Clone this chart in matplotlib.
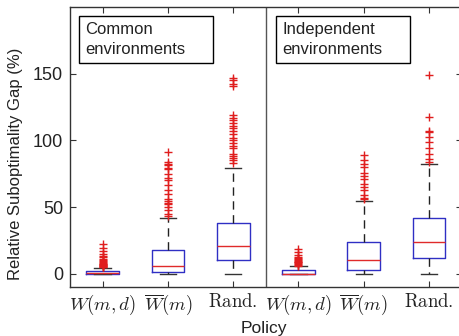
import matplotlib
matplotlib.use('Agg')
import matplotlib.pyplot as plt
from matplotlib.patches import Rectangle

plt.rcParams['font.family'] = 'Liberation Sans'
plt.rcParams['mathtext.fontset'] = 'cm'

# policies, repeated for both panels
policy_labels = [r'$W(m,d)$', r'$\overline{W}(m)$', r'$\mathrm{Rand.}$'] * 2
group_labels = ['Common\nenvironments', 'Independent\nenvironments']
positions = [1, 2, 3, 4, 5, 6]

# box statistics (common x3, independent x3)
whislo = [0, 0, 0, 0, 0, 0]
q1 = [0, 1, 10, 0, 3, 12]
med = [0.3, 6, 20.5, 0, 10, 23.5]
q3 = [1.7, 17.5, 38, 2.8, 23.5, 41.5]
whishi = [4.3, 41.7, 79.5, 5.7, 54.5, 82]

fliers = [
    [22, 19.5, 17, 15, 13.5, 12.5, 11, 10, 9.2, 8.6, 8, 7.5, 7, 6.6, 6.2, 5.8, 5.4, 5, 4.7],
    [91.2, 83.7, 82, 81.2, 79, 78.2, 75, 72, 70.5, 66.7, 63, 60, 56, 54.2, 53, 52, 50, 47.5, 45, 43.5],
    [147, 145, 142.5, 141, 119, 117, 115, 113, 111, 109, 107, 105, 102, 100, 98, 96, 94, 90,
     88, 87, 85, 83],
    [18.7, 16.2, 13.7, 12.5, 11.8, 11, 10.3, 9.6, 9, 8.4, 7.8, 7.2, 6.6, 6.1],
    [88.7, 85, 82.5, 80, 75.7, 73, 71.2, 67, 65, 62.5, 59.2, 57, 56],
    [149.2, 117.5, 107, 106.2, 102.5, 98.7, 94.5, 90, 86.2, 84],
]

stats = []
for i in range(6):
    stats.append({'whislo': whislo[i], 'q1': q1[i], 'med': med[i], 'q3': q3[i],
                  'whishi': whishi[i], 'fliers': fliers[i]})

fig = plt.figure(figsize=(4.59, 3.36), dpi=100)
ax = fig.add_axes([70 / 459, 49 / 336, 391.7 / 459, 280 / 336])

ax.bxp(stats, positions=positions, widths=0.5, manage_ticks=False,
       boxprops=dict(color='#2f2fc4', lw=1.0),
       medianprops=dict(color='#e02a2a', lw=1.0),
       whiskerprops=dict(color='#222222', lw=1.0, linestyle=(0, (6, 4))),
       capprops=dict(color='#333333', lw=1.0),
       flierprops=dict(marker='+', markeredgecolor='#e01e1e', markersize=6, markeredgewidth=1.0))

ax.axvline(3.5, color='#555555', lw=1)

ax.set_xlim(0.5, 6.5)
ax.set_ylim(-10, 200)
ax.set_xticks(positions)
ax.set_xticklabels(policy_labels)
ax.set_yticks([0, 50, 100, 150])
ax.tick_params(direction='in', top=True, right=True, length=4, width=0.8,
               colors='#333333', labelcolor='#222222')
ax.tick_params(axis='x', labelsize=13.5, pad=4)
ax.tick_params(axis='y', labelsize=13, pad=5)
for s in ax.spines.values():
    s.set_color('#333333')
    s.set_linewidth(1)

# label boxes
box_x = [0.0222, 0.526]
text_x = [0.038, 0.543]
for i in range(2):
    ax.add_patch(Rectangle((box_x[i], 0.8), 0.343, 0.168, transform=ax.transAxes,
                           fc='white', ec='black', lw=1, zorder=5))
    ax.text(text_x[i], 0.948, group_labels[i], transform=ax.transAxes, ha='left', va='top',
            fontsize=12, color='#222222', linespacing=1.45, zorder=6)

fig.text(16 / 459, 1 - 163.5 / 336, 'Relative Suboptimality Gap (%)', rotation=90,
         ha='center', va='center', fontsize=12, color='#222222')
fig.text(263.5 / 459, 1 - 328 / 336, 'Policy', ha='center', va='center',
         fontsize=12.5, color='#222222')

fig.savefig('out.png', dpi=100)
